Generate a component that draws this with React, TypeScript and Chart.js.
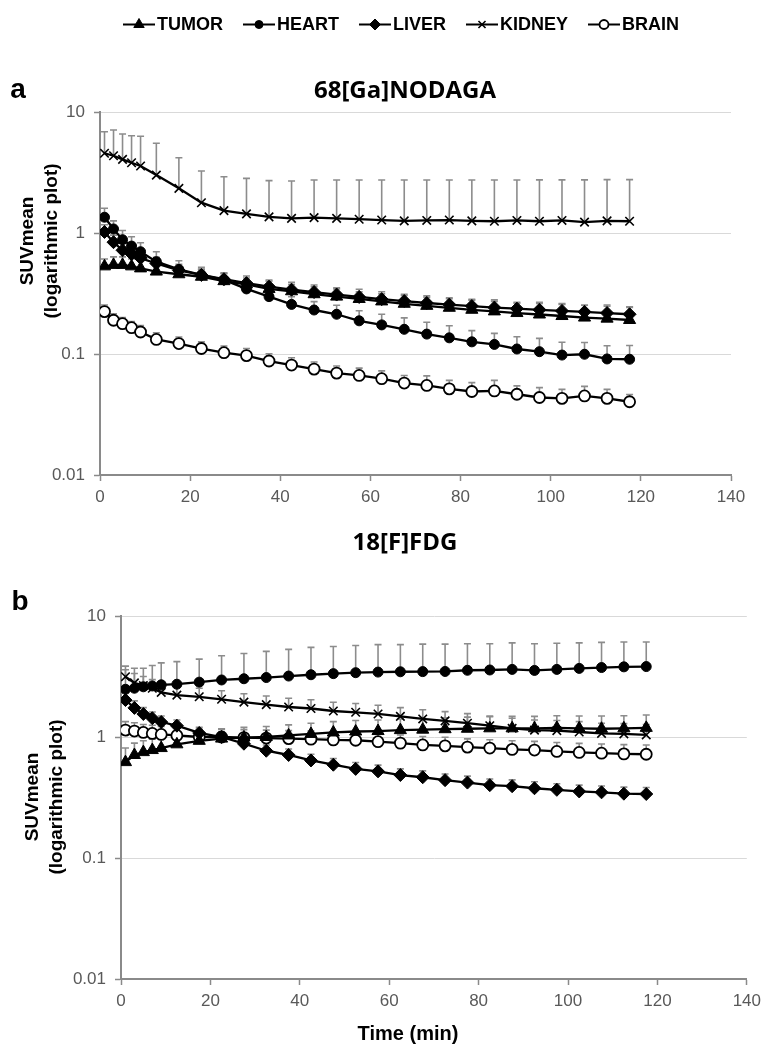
import React, { useEffect, useRef } from "react";
import { Chart, registerables } from "chart.js";
import { drawPoint } from "chart.js/helpers";

Chart.register(...registerables);

// ---------- data ----------
const TIME_MIN = [1, 3, 5, 7, 9, 12.5, 17.5, 22.5, 27.5, 32.5, 37.5, 42.5, 47.5, 52.5, 57.5, 62.5, 67.5, 72.5, 77.5, 82.5, 87.5, 92.5, 97.5, 102.5, 107.5, 112.5, 117.5];
const SERIES_NAMES = ["TUMOR", "HEART", "LIVER", "KIDNEY", "BRAIN"];
const Y_TICKS = [0.01, 0.1, 1, 10];
const X_TICKS = [0, 20, 40, 60, 80, 100, 120, 140];

// panel a: 68[Ga]NODAGA (mean, SD)
const GA_TUMOR = [0.53, 0.545, 0.545, 0.53, 0.51, 0.48, 0.456, 0.435, 0.40, 0.376, 0.345, 0.330, 0.312, 0.298, 0.285, 0.272, 0.260, 0.250, 0.241, 0.232, 0.225, 0.218, 0.212, 0.206, 0.200, 0.196, 0.191];
const GA_TUMOR_SD = [0.08, 0.09, 0.09, 0.08, 0.08, 0.08, 0.07, 0.065, 0.065, 0.065, 0.064, 0.061, 0.06, 0.055, 0.058, 0.055, 0.051, 0.052, 0.051, 0.051, 0.055, 0.045, 0.055, 0.055, 0.053, 0.058, 0.055];
const GA_HEART = [1.35, 1.08, 0.88, 0.78, 0.70, 0.58, 0.50, 0.45, 0.41, 0.345, 0.298, 0.257, 0.231, 0.213, 0.188, 0.174, 0.160, 0.146, 0.136, 0.126, 0.120, 0.110, 0.1045, 0.098, 0.0995, 0.091, 0.0905];
const GA_HEART_SD = [0.25, 0.18, 0.17, 0.15, 0.13, 0.12, 0.09, 0.07, 0.06, 0.05, 0.045, 0.04, 0.04, 0.04, 0.04, 0.039, 0.039, 0.037, 0.035, 0.030, 0.028, 0.029, 0.030, 0.027, 0.025, 0.026, 0.027];
const GA_LIVER = [1.02, 0.84, 0.72, 0.67, 0.62, 0.56, 0.49, 0.45, 0.415, 0.385, 0.36, 0.34, 0.325, 0.31, 0.296, 0.284, 0.274, 0.264, 0.256, 0.249, 0.242, 0.237, 0.232, 0.227, 0.223, 0.218, 0.213];
const GA_LIVER_SD = [0.15, 0.12, 0.10, 0.09, 0.08, 0.07, 0.06, 0.05, 0.045, 0.04, 0.04, 0.035, 0.035, 0.035, 0.03, 0.03, 0.03, 0.03, 0.03, 0.03, 0.03, 0.03, 0.03, 0.03, 0.03, 0.03, 0.03];
const GA_KIDNEY = [4.56, 4.35, 4.06, 3.81, 3.58, 3.01, 2.34, 1.78, 1.53, 1.44, 1.36, 1.32, 1.34, 1.32, 1.30, 1.28, 1.26, 1.27, 1.28, 1.26, 1.25, 1.27, 1.25, 1.27, 1.23, 1.26, 1.25];
const GA_KIDNEY_SD = [2.31, 2.75, 2.52, 2.56, 2.72, 2.50, 1.85, 1.47, 1.39, 1.39, 1.35, 1.37, 1.40, 1.42, 1.44, 1.46, 1.48, 1.47, 1.46, 1.48, 1.49, 1.47, 1.50, 1.48, 1.52, 1.50, 1.51];
const GA_BRAIN = [0.224, 0.19, 0.178, 0.165, 0.152, 0.132, 0.122, 0.111, 0.1025, 0.097, 0.0875, 0.081, 0.075, 0.0695, 0.0665, 0.0625, 0.0575, 0.055, 0.0515, 0.049, 0.0495, 0.0465, 0.0437, 0.043, 0.045, 0.043, 0.0403];
const GA_BRAIN_SD = [0.03, 0.025, 0.022, 0.02, 0.02, 0.018, 0.016, 0.015, 0.014, 0.014, 0.013, 0.012, 0.011, 0.01, 0.01, 0.01, 0.009, 0.011, 0.009, 0.009, 0.011, 0.008, 0.009, 0.008, 0.009, 0.008, 0.006];

// panel b: 18[F]FDG (mean, SD)
const FDG_TUMOR = [0.62, 0.71, 0.75, 0.78, 0.81, 0.87, 0.93, 0.97, 0.99, 1.00, 1.03, 1.06, 1.09, 1.11, 1.12, 1.14, 1.15, 1.16, 1.17, 1.18, 1.18, 1.18, 1.19, 1.18, 1.17, 1.18, 1.19];
const FDG_TUMOR_SD = [0.19, 0.18, 0.18, 0.18, 0.18, 0.18, 0.19, 0.20, 0.21, 0.22, 0.23, 0.24, 0.25, 0.26, 0.26, 0.27, 0.28, 0.28, 0.29, 0.29, 0.30, 0.30, 0.31, 0.31, 0.32, 0.32, 0.33];
const FDG_HEART = [2.48, 2.53, 2.60, 2.64, 2.70, 2.73, 2.84, 2.96, 3.03, 3.10, 3.19, 3.27, 3.34, 3.40, 3.44, 3.46, 3.47, 3.48, 3.56, 3.58, 3.62, 3.55, 3.62, 3.69, 3.75, 3.80, 3.82];
const FDG_HEART_SD = [1.12, 1.17, 1.10, 1.26, 1.40, 1.47, 1.56, 1.74, 1.87, 2.00, 2.11, 2.23, 2.26, 2.30, 2.36, 2.34, 2.38, 2.37, 2.34, 2.32, 2.38, 2.35, 2.33, 2.31, 2.30, 2.30, 2.28];
const FDG_LIVER = [2.02, 1.74, 1.55, 1.43, 1.33, 1.24, 1.08, 1.00, 0.88, 0.77, 0.71, 0.64, 0.59, 0.545, 0.52, 0.485, 0.465, 0.44, 0.42, 0.40, 0.392, 0.377, 0.366, 0.355, 0.349, 0.34, 0.338];
const FDG_LIVER_SD = [0.30, 0.25, 0.20, 0.18, 0.16, 0.14, 0.12, 0.11, 0.10, 0.09, 0.085, 0.08, 0.075, 0.07, 0.065, 0.06, 0.06, 0.055, 0.055, 0.05, 0.05, 0.05, 0.045, 0.045, 0.045, 0.045, 0.045];
const FDG_KIDNEY = [3.15, 2.80, 2.66, 2.53, 2.34, 2.22, 2.15, 2.05, 1.94, 1.85, 1.77, 1.72, 1.64, 1.60, 1.55, 1.48, 1.41, 1.36, 1.30, 1.24, 1.18, 1.14, 1.13, 1.10, 1.07, 1.06, 1.04];
const FDG_KIDNEY_SD = [0.70, 0.55, 0.50, 0.45, 0.42, 0.40, 0.38, 0.36, 0.34, 0.33, 0.32, 0.31, 0.30, 0.29, 0.28, 0.27, 0.27, 0.26, 0.26, 0.25, 0.25, 0.24, 0.24, 0.24, 0.23, 0.23, 0.23];
const FDG_BRAIN = [1.14, 1.12, 1.09, 1.07, 1.05, 1.03, 1.00, 1.00, 0.99, 0.98, 0.97, 0.96, 0.945, 0.94, 0.915, 0.89, 0.86, 0.845, 0.825, 0.81, 0.79, 0.78, 0.76, 0.745, 0.735, 0.725, 0.72];
const FDG_BRAIN_SD = [0.20, 0.19, 0.18, 0.18, 0.17, 0.17, 0.16, 0.16, 0.16, 0.16, 0.16, 0.16, 0.16, 0.15, 0.15, 0.15, 0.15, 0.15, 0.14, 0.14, 0.14, 0.14, 0.14, 0.14, 0.14, 0.14, 0.14];

// ---------- styles ----------
const MARKERS: Record<string, { style: string; radius: number; fill: string; border: number }> = {
  TUMOR: { style: "triangle", radius: 7, fill: "#000", border: 1 },
  HEART: { style: "circle", radius: 5, fill: "#000", border: 1 },
  LIVER: { style: "rectRot", radius: 6.5, fill: "#000", border: 1 },
  KIDNEY: { style: "crossRot", radius: 6, fill: "#000", border: 1.6 },
  BRAIN: { style: "circle", radius: 5.5, fill: "#fff", border: 1.8 },
};

const TICK_FONT = { family: "'Liberation Sans', Arial, sans-serif", size: 17 };
const AXIS_GRAY = "#8a8a8a";

const errorBarPlugin = {
  id: "errorBars",
  beforeDatasetsDraw(chart: any) {
    const { ctx, chartArea, scales } = chart;
    const x = scales.x, y = scales.y;
    ctx.save();
    ctx.beginPath();
    ctx.rect(chartArea.left, chartArea.top - 2, chartArea.width, chartArea.height + 2);
    ctx.clip();
    ctx.strokeStyle = "#8c8c8c";
    ctx.lineWidth = 1.6;
    chart.data.datasets.forEach((ds: any) => {
      ds.data.forEach((p: any, i: number) => {
        const px = x.getPixelForValue(p.x);
        const py = y.getPixelForValue(p.y);
        const pt = y.getPixelForValue(p.y + ds.errors[i]);
        ctx.beginPath();
        ctx.moveTo(px, py);
        ctx.lineTo(px, pt);
        ctx.moveTo(px - 3.5, pt);
        ctx.lineTo(px + 3.5, pt);
        ctx.stroke();
      });
    });
    ctx.restore();
  },
};

type PanelText = {
  letter: string; letterX: number; letterY: number;
  title: string; titleY: number; titleX: number;
  yTitleCenter: number; yTitleX1: number; yTitleX2: number;
  xTitle?: string; xTitleX?: number; xTitleY?: number;
  legend?: boolean;
};

function textPlugin(t: PanelText) {
  return {
    id: "panelText",
    afterDraw(chart: any) {
      const ctx = chart.ctx;
      ctx.save();
      ctx.fillStyle = "#000";
      ctx.textBaseline = "middle";
      ctx.font = "bold 28px 'Liberation Sans', Arial, sans-serif";
      ctx.textAlign = "center";
      ctx.fillText(t.letter, t.letterX, t.letterY);
      ctx.font = "bold 24px 'Open Sans', sans-serif";
      ctx.fillText(t.title, t.titleX, t.titleY);
      ctx.font = "bold 19px 'Liberation Sans', Arial, sans-serif";
      ctx.save();
      ctx.translate(t.yTitleX1, t.yTitleCenter);
      ctx.rotate(-Math.PI / 2);
      ctx.fillText("SUVmean", 0, 0);
      ctx.restore();
      ctx.save();
      ctx.translate(t.yTitleX2, t.yTitleCenter);
      ctx.rotate(-Math.PI / 2);
      ctx.fillText("(logarithmic plot)", 0, 0);
      ctx.restore();
      if (t.xTitle) {
        ctx.font = "bold 20px 'Liberation Sans', Arial, sans-serif";
        ctx.fillText(t.xTitle, t.xTitleX, t.xTitleY);
      }
      if (t.legend) {
        ctx.font = "bold 18px 'Liberation Sans', Arial, sans-serif";
        ctx.textAlign = "left";
        const symW = 32, gapSym = 2, gapItem = 20;
        const widths = SERIES_NAMES.map((n) => ctx.measureText(n).width);
        const total = widths.reduce((s: number, w: number) => s + symW + gapSym + w, 0) + gapItem * (SERIES_NAMES.length - 1);
        let x = 401 - total / 2;
        const ly = 24.5;
        SERIES_NAMES.forEach((n, i) => {
          const m = MARKERS[n];
          ctx.strokeStyle = "#000";
          ctx.lineWidth = 2;
          ctx.beginPath();
          ctx.moveTo(x, ly);
          ctx.lineTo(x + symW, ly);
          ctx.stroke();
          ctx.fillStyle = m.fill;
          ctx.lineWidth = m.border;
          drawPoint(ctx, { pointStyle: m.style, radius: m.radius - 1, rotation: 0, borderWidth: m.border } as any, x + symW / 2, ly);
          ctx.fillStyle = "#000";
          ctx.fillText(n, x + symW + gapSym, ly + 1);
          x += symW + gapSym + widths[i] + gapItem;
        });
      }
      ctx.restore();
    },
  };
}

function makeDatasets(values: number[][], errors: number[][]) {
  return SERIES_NAMES.map((name, k) => {
    const m = MARKERS[name];
    return {
      label: name,
      data: TIME_MIN.map((t, i) => ({ x: t, y: values[k][i] })),
      errors: errors[k],
      borderColor: "#000",
      borderWidth: 2.3,
      pointStyle: m.style,
      pointRadius: m.radius,
      pointBackgroundColor: m.fill,
      pointBorderColor: "#000",
      pointBorderWidth: m.border,
      tension: 0,
      fill: false,
    };
  });
}

function makeConfig(opts: {
  values: number[][]; errors: number[][]; padding: any; yWidth: number; xHeight: number; text: PanelText;
}): any {
  return {
    type: "line",
    data: { datasets: makeDatasets(opts.values, opts.errors) },
    options: {
      responsive: false,
      animation: false,
      devicePixelRatio: 1,
      layout: { padding: opts.padding },
      plugins: { legend: { display: false }, tooltip: { enabled: false }, title: { display: false } },
      scales: {
        x: {
          type: "linear",
          min: 0,
          max: 140,
          afterBuildTicks: (s: any) => { s.ticks = X_TICKS.map((v) => ({ value: v })); },
          afterFit: (s: any) => { s.height = opts.xHeight; },
          ticks: { font: TICK_FONT, color: "#595959", padding: 6, maxRotation: 0, autoSkip: false },
          grid: { drawOnChartArea: false, drawTicks: true, tickLength: 6, tickColor: AXIS_GRAY, tickWidth: 1.5 },
          border: { color: AXIS_GRAY, width: 2 },
        },
        y: {
          type: "logarithmic",
          min: 0.01,
          max: 10,
          afterBuildTicks: (s: any) => { s.ticks = Y_TICKS.map((v) => ({ value: v })); },
          afterFit: (s: any) => { s.width = opts.yWidth; },
          ticks: { font: TICK_FONT, color: "#595959", padding: 9, callback: (v: any) => String(v) },
          grid: { color: "#d9d9d9", lineWidth: 1, drawTicks: true, tickLength: 6, tickColor: AXIS_GRAY, tickWidth: 1.5 },
          border: { color: AXIS_GRAY, width: 2 },
        },
      },
    },
    plugins: [errorBarPlugin, textPlugin(opts.text)],
  };
}

export default function App() {
  const refA = useRef<HTMLCanvasElement>(null);
  const refB = useRef<HTMLCanvasElement>(null);

  useEffect(() => {
    const chartA = new Chart(
      refA.current as HTMLCanvasElement,
      makeConfig({
        values: [GA_TUMOR, GA_HEART, GA_LIVER, GA_KIDNEY, GA_BRAIN],
        errors: [GA_TUMOR_SD, GA_HEART_SD, GA_LIVER_SD, GA_KIDNEY_SD, GA_BRAIN_SD],
        padding: { left: 0, right: 36, top: 112, bottom: 0 },
        yWidth: 100,
        xHeight: 45,
        text: {
          letter: "a", letterX: 18, letterY: 90,
          title: "68[Ga]NODAGA", titleX: 405, titleY: 91,
          yTitleCenter: 241, yTitleX1: 28, yTitleX2: 52,
          legend: true,
        },
      })
    );
    const chartB = new Chart(
      refB.current as HTMLCanvasElement,
      makeConfig({
        values: [FDG_TUMOR, FDG_HEART, FDG_LIVER, FDG_KIDNEY, FDG_BRAIN],
        errors: [FDG_TUMOR_SD, FDG_HEART_SD, FDG_LIVER_SD, FDG_KIDNEY_SD, FDG_BRAIN_SD],
        padding: { left: 0, right: 17, top: 96, bottom: 0 },
        yWidth: 121,
        xHeight: 65,
        text: {
          letter: "b", letterX: 20, letterY: 82,
          title: "18[F]FDG", titleX: 405, titleY: 23,
          yTitleCenter: 277, yTitleX1: 33, yTitleX2: 57,
          xTitle: "Time (min)", xTitleX: 408, xTitleY: 514,
        },
      })
    );
    return () => {
      chartA.destroy();
      chartB.destroy();
    };
  }, []);

  return (
    <div style={{ position: "absolute", left: 0, top: 0, width: 767, height: 1044, background: "#fff" }}>
      <canvas ref={refA} width={767} height={520} style={{ position: "absolute", left: 0, top: 0 }} />
      <canvas ref={refB} width={767} height={524} style={{ position: "absolute", left: 0, top: 520 }} />
    </div>
  );
}
